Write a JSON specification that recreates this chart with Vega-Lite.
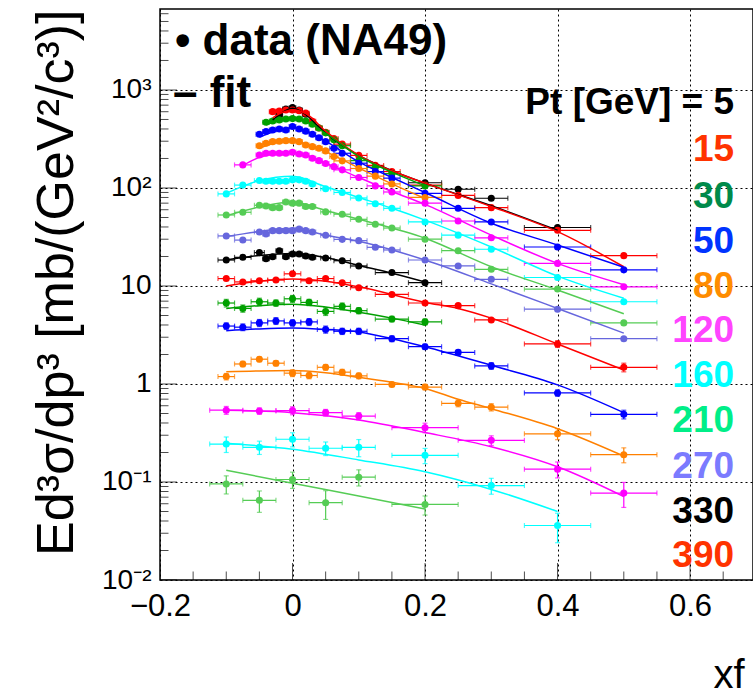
{
"$schema": "https://vega.github.io/schema/vega-lite/v6.json",
"width": 593, "height": 571,
"autosize": {"type": "none"},
"padding": {"left": 160, "top": 9, "right": 0, "bottom": 116},
"background": "white",
"config": {"font": "Liberation Sans", "view": {"stroke": "black", "strokeWidth": 1.5}},
"resolve": {"axis": {"x": "independent", "y": "independent"}},
"datasets": {
"xt": [
{"v":-0.2,"k":"maj"},{"v":-0.15,"k":"min"},{"v":-0.1,"k":"min"},{"v":-0.05,"k":"min"},{"v":0,"k":"maj"},{"v":0.05,"k":"min"},{"v":0.1,"k":"min"},{"v":0.15,"k":"min"},{"v":0.2,"k":"maj"},{"v":0.25,"k":"min"},{"v":0.3,"k":"min"},{"v":0.35,"k":"min"},{"v":0.4,"k":"maj"},{"v":0.45,"k":"min"},{"v":0.5,"k":"min"},{"v":0.55,"k":"min"},{"v":0.6,"k":"maj"},{"v":0.65,"k":"min"}
],
"yt": [
{"v":0.01,"k":"maj"},{"v":0.02,"k":"min"},{"v":0.03,"k":"min"},{"v":0.04,"k":"min"},{"v":0.05,"k":"min"},{"v":0.06,"k":"min"},{"v":0.07,"k":"min"},{"v":0.08,"k":"min"},{"v":0.09,"k":"min"},
{"v":0.1,"k":"maj"},{"v":0.2,"k":"min"},{"v":0.3,"k":"min"},{"v":0.4,"k":"min"},{"v":0.5,"k":"min"},{"v":0.6,"k":"min"},{"v":0.7,"k":"min"},{"v":0.8,"k":"min"},{"v":0.9,"k":"min"},
{"v":1,"k":"maj"},{"v":2,"k":"min"},{"v":3,"k":"min"},{"v":4,"k":"min"},{"v":5,"k":"min"},{"v":6,"k":"min"},{"v":7,"k":"min"},{"v":8,"k":"min"},{"v":9,"k":"min"},
{"v":10,"k":"maj"},{"v":20,"k":"min"},{"v":30,"k":"min"},{"v":40,"k":"min"},{"v":50,"k":"min"},{"v":60,"k":"min"},{"v":70,"k":"min"},{"v":80,"k":"min"},{"v":90,"k":"min"},
{"v":100,"k":"maj"},{"v":200,"k":"min"},{"v":300,"k":"min"},{"v":400,"k":"min"},{"v":500,"k":"min"},{"v":600,"k":"min"},{"v":700,"k":"min"},{"v":800,"k":"min"},{"v":900,"k":"min"},
{"v":1000,"k":"maj"},{"v":2000,"k":"min"},{"v":3000,"k":"min"},{"v":4000,"k":"min"},{"v":5000,"k":"min"},{"v":6000,"k":"min"}
],
"pts": [
{"s":"5","x":-0.02,"y":560,"ex":0.005},{"s":"5","x":-0.01,"y":640,"ex":0.005},{"s":"5","x":0,"y":660,"ex":0.005},{"s":"5","x":0.01,"y":625,"ex":0.005},{"s":"5","x":0.02,"y":565,"ex":0.005},{"s":"5","x":0.2,"y":113,"ex":0.025},{"s":"5","x":0.25,"y":97,"ex":0.025},{"s":"5","x":0.3,"y":78.5,"ex":0.025},{"s":"5","x":0.4,"y":39.5,"ex":0.05},
{"s":"15","x":-0.03,"y":601,"ex":0.005},{"s":"15","x":-0.02,"y":611,"ex":0.005},{"s":"15","x":-0.01,"y":625,"ex":0.005},{"s":"15","x":0,"y":625,"ex":0.005},{"s":"15","x":0.01,"y":615,"ex":0.005},{"s":"15","x":0.02,"y":580,"ex":0.005},{"s":"15","x":0.03,"y":480,"ex":0.005},{"s":"15","x":0.04,"y":410,"ex":0.005},{"s":"15","x":0.05,"y":370,"ex":0.005},{"s":"15","x":0.0625,"y":320,"ex":0.00625},{"s":"15","x":0.075,"y":280,"ex":0.0125},{"s":"15","x":0.1,"y":215,"ex":0.0125},{"s":"15","x":0.125,"y":170,"ex":0.0125},{"s":"15","x":0.15,"y":147,"ex":0.0125},{"s":"15","x":0.2,"y":107,"ex":0.025},{"s":"15","x":0.25,"y":84,"ex":0.025},{"s":"15","x":0.3,"y":63,"ex":0.025},{"s":"15","x":0.4,"y":37,"ex":0.05},{"s":"15","x":0.5,"y":20.4,"ex":0.05},
{"s":"30","x":-0.04,"y":468,"ex":0.005},{"s":"30","x":-0.03,"y":483,"ex":0.005},{"s":"30","x":-0.02,"y":495,"ex":0.005},{"s":"30","x":-0.01,"y":506,"ex":0.005},{"s":"30","x":0,"y":510,"ex":0.005},{"s":"30","x":0.01,"y":506,"ex":0.005},{"s":"30","x":0.02,"y":483,"ex":0.005},{"s":"30","x":0.03,"y":447,"ex":0.005},{"s":"30","x":0.04,"y":410,"ex":0.005},{"s":"30","x":0.05,"y":365,"ex":0.005},{"s":"30","x":0.0625,"y":310,"ex":0.00625},{"s":"30","x":0.075,"y":270,"ex":0.0125},{"s":"30","x":0.1,"y":190,"ex":0.0125},{"s":"30","x":0.125,"y":163,"ex":0.0125},{"s":"30","x":0.15,"y":140,"ex":0.0125},{"s":"30","x":0.2,"y":105,"ex":0.025},
{"s":"50","x":-0.05,"y":353,"ex":0.005},{"s":"50","x":-0.04,"y":376,"ex":0.005},{"s":"50","x":-0.03,"y":391,"ex":0.005},{"s":"50","x":-0.02,"y":400,"ex":0.005},{"s":"50","x":-0.01,"y":390,"ex":0.005},{"s":"50","x":0,"y":423,"ex":0.005},{"s":"50","x":0.01,"y":400,"ex":0.005},{"s":"50","x":0.02,"y":380,"ex":0.005},{"s":"50","x":0.03,"y":353,"ex":0.005},{"s":"50","x":0.04,"y":326,"ex":0.005},{"s":"50","x":0.05,"y":297,"ex":0.005},{"s":"50","x":0.0625,"y":254,"ex":0.00625},{"s":"50","x":0.075,"y":226,"ex":0.0125},{"s":"50","x":0.1,"y":179,"ex":0.0125},{"s":"50","x":0.125,"y":147,"ex":0.0125},{"s":"50","x":0.15,"y":126,"ex":0.0125},{"s":"50","x":0.2,"y":88,"ex":0.025},{"s":"50","x":0.25,"y":62,"ex":0.025},{"s":"50","x":0.3,"y":45,"ex":0.025},{"s":"50","x":0.4,"y":25,"ex":0.05},{"s":"50","x":0.5,"y":14.6,"ex":0.05},
{"s":"80","x":-0.05,"y":270,"ex":0.005},{"s":"80","x":-0.04,"y":286,"ex":0.005},{"s":"80","x":-0.03,"y":297,"ex":0.005},{"s":"80","x":-0.02,"y":300,"ex":0.005},{"s":"80","x":-0.01,"y":304,"ex":0.005},{"s":"80","x":0,"y":304,"ex":0.005},{"s":"80","x":0.01,"y":297,"ex":0.005},{"s":"80","x":0.02,"y":275,"ex":0.005},{"s":"80","x":0.03,"y":264,"ex":0.005},{"s":"80","x":0.04,"y":254,"ex":0.005},{"s":"80","x":0.05,"y":239,"ex":0.005},{"s":"80","x":0.0625,"y":209,"ex":0.00625},{"s":"80","x":0.075,"y":189,"ex":0.0125},{"s":"80","x":0.1,"y":158,"ex":0.0125},{"s":"80","x":0.125,"y":132,"ex":0.0125},{"s":"80","x":0.15,"y":110,"ex":0.0125},{"s":"80","x":0.2,"y":80,"ex":0.025},
{"s":"120","x":-0.075,"y":172,"ex":0.0125},{"s":"120","x":-0.05,"y":217,"ex":0.005},{"s":"120","x":-0.04,"y":226,"ex":0.005},{"s":"120","x":-0.03,"y":226,"ex":0.005},{"s":"120","x":-0.02,"y":226,"ex":0.005},{"s":"120","x":-0.01,"y":226,"ex":0.005},{"s":"120","x":0,"y":231,"ex":0.005},{"s":"120","x":0.01,"y":222,"ex":0.005},{"s":"120","x":0.02,"y":217,"ex":0.005},{"s":"120","x":0.03,"y":201,"ex":0.005},{"s":"120","x":0.04,"y":190,"ex":0.005},{"s":"120","x":0.05,"y":178,"ex":0.005},{"s":"120","x":0.0625,"y":165,"ex":0.00625},{"s":"120","x":0.075,"y":153,"ex":0.0125},{"s":"120","x":0.1,"y":128,"ex":0.0125},{"s":"120","x":0.125,"y":105,"ex":0.0125},{"s":"120","x":0.15,"y":91,"ex":0.0125},{"s":"120","x":0.2,"y":70,"ex":0.025},{"s":"120","x":0.25,"y":46,"ex":0.025},{"s":"120","x":0.3,"y":31,"ex":0.025},{"s":"120","x":0.4,"y":17,"ex":0.05},{"s":"120","x":0.5,"y":9.8,"ex":0.05},
{"s":"160","x":-0.1,"y":87,"ex":0.0125},{"s":"160","x":-0.075,"y":107,"ex":0.0125},{"s":"160","x":-0.05,"y":119,"ex":0.0075},{"s":"160","x":-0.04,"y":117,"ex":0.005},{"s":"160","x":-0.03,"y":117,"ex":0.005},{"s":"160","x":-0.02,"y":117,"ex":0.005},{"s":"160","x":-0.01,"y":117,"ex":0.005},{"s":"160","x":0,"y":121,"ex":0.005},{"s":"160","x":0.01,"y":121,"ex":0.005},{"s":"160","x":0.02,"y":117,"ex":0.005},{"s":"160","x":0.03,"y":110,"ex":0.005},{"s":"160","x":0.05,"y":98,"ex":0.0075},{"s":"160","x":0.075,"y":90,"ex":0.0125},{"s":"160","x":0.1,"y":79,"ex":0.0125},{"s":"160","x":0.125,"y":69,"ex":0.0125},{"s":"160","x":0.15,"y":62,"ex":0.0125},{"s":"160","x":0.2,"y":45,"ex":0.025},{"s":"160","x":0.25,"y":33,"ex":0.025},{"s":"160","x":0.3,"y":23.7,"ex":0.025},{"s":"160","x":0.4,"y":12.2,"ex":0.05},{"s":"160","x":0.5,"y":6.9,"ex":0.05},
{"s":"210","x":-0.1,"y":53,"ex":0.0125},{"s":"210","x":-0.075,"y":56.5,"ex":0.0125},{"s":"210","x":-0.05,"y":66.6,"ex":0.0075},{"s":"210","x":-0.04,"y":65.5,"ex":0.005},{"s":"210","x":-0.03,"y":63,"ex":0.005},{"s":"210","x":-0.02,"y":63,"ex":0.005},{"s":"210","x":-0.01,"y":72,"ex":0.005},{"s":"210","x":0,"y":70,"ex":0.005},{"s":"210","x":0.01,"y":70,"ex":0.005},{"s":"210","x":0.02,"y":64.6,"ex":0.005},{"s":"210","x":0.03,"y":64.6,"ex":0.005},{"s":"210","x":0.05,"y":57,"ex":0.0075},{"s":"210","x":0.075,"y":54,"ex":0.0125},{"s":"210","x":0.1,"y":47.9,"ex":0.0125},{"s":"210","x":0.125,"y":42.6,"ex":0.0125},{"s":"210","x":0.15,"y":39,"ex":0.0125},{"s":"210","x":0.2,"y":30,"ex":0.025},{"s":"210","x":0.25,"y":22.9,"ex":0.025},{"s":"210","x":0.3,"y":14.8,"ex":0.025},{"s":"210","x":0.4,"y":9.3,"ex":0.05},{"s":"210","x":0.5,"y":4.2,"ex":0.05},
{"s":"270","x":-0.1,"y":32.4,"ex":0.0125},{"s":"270","x":-0.075,"y":29.4,"ex":0.0125},{"s":"270","x":-0.05,"y":35.6,"ex":0.0075},{"s":"270","x":-0.04,"y":34,"ex":0.005},{"s":"270","x":-0.03,"y":36.7,"ex":0.005},{"s":"270","x":-0.02,"y":36.7,"ex":0.005},{"s":"270","x":-0.01,"y":36.7,"ex":0.005},{"s":"270","x":0,"y":36.7,"ex":0.005},{"s":"270","x":0.01,"y":38,"ex":0.005},{"s":"270","x":0.02,"y":36.7,"ex":0.005},{"s":"270","x":0.03,"y":35.6,"ex":0.005},{"s":"270","x":0.05,"y":32.9,"ex":0.0075},{"s":"270","x":0.075,"y":29.9,"ex":0.0125},{"s":"270","x":0.1,"y":29,"ex":0.0125},{"s":"270","x":0.125,"y":24.8,"ex":0.0125},{"s":"270","x":0.15,"y":23.3,"ex":0.0125},{"s":"270","x":0.2,"y":18.4,"ex":0.025},{"s":"270","x":0.25,"y":16,"ex":0.025},{"s":"270","x":0.3,"y":11.7,"ex":0.025},{"s":"270","x":0.4,"y":5.8,"ex":0.05},{"s":"270","x":0.5,"y":2.9,"ex":0.05},
{"s":"330","x":-0.1,"y":18.4,"ex":0.0125},{"s":"330","x":-0.075,"y":19.6,"ex":0.0125},{"s":"330","x":-0.05,"y":21.9,"ex":0.0075},{"s":"330","x":-0.04,"y":19,"ex":0.005},{"s":"330","x":-0.03,"y":19.9,"ex":0.005},{"s":"330","x":-0.02,"y":22.9,"ex":0.005},{"s":"330","x":-0.01,"y":19.9,"ex":0.005},{"s":"330","x":0,"y":21.2,"ex":0.005},{"s":"330","x":0.01,"y":21.2,"ex":0.005},{"s":"330","x":0.02,"y":20.2,"ex":0.005},{"s":"330","x":0.03,"y":19.6,"ex":0.005},{"s":"330","x":0.05,"y":19.3,"ex":0.0075},{"s":"330","x":0.075,"y":18.1,"ex":0.0125},{"s":"330","x":0.1,"y":16,"ex":0.0125},{"s":"330","x":0.15,"y":13.7,"ex":0.025},{"s":"330","x":0.2,"y":10.8,"ex":0.025},
{"s":"390","x":-0.1,"y":11.9,"ex":0.0125},{"s":"390","x":-0.075,"y":11,"ex":0.0125},{"s":"390","x":-0.05,"y":11.3,"ex":0.0125},{"s":"390","x":-0.025,"y":11.5,"ex":0.0125},{"s":"390","x":0,"y":13.3,"ex":0.0125},{"s":"390","x":0.025,"y":11.3,"ex":0.0125},{"s":"390","x":0.05,"y":11.9,"ex":0.0125},{"s":"390","x":0.075,"y":10.8,"ex":0.0125},{"s":"390","x":0.1,"y":9.6,"ex":0.0125},{"s":"390","x":0.15,"y":8.2,"ex":0.025},{"s":"390","x":0.2,"y":6.7,"ex":0.025},{"s":"390","x":0.25,"y":6.3,"ex":0.025},{"s":"390","x":0.3,"y":4.5,"ex":0.025},{"s":"390","x":0.4,"y":2.56,"ex":0.05,"ey":0.2},{"s":"390","x":0.5,"y":1.48,"ex":0.05,"ey":0.15},
{"s":"460","x":-0.1,"y":6.7,"ex":0.0125,"ey":0.6},{"s":"460","x":-0.075,"y":5.9,"ex":0.0125,"ey":0.5},{"s":"460","x":-0.05,"y":6.9,"ex":0.0125,"ey":0.6},{"s":"460","x":-0.025,"y":6.7,"ex":0.0125,"ey":0.5},{"s":"460","x":0,"y":7.4,"ex":0.0125,"ey":0.6},{"s":"460","x":0.025,"y":6.8,"ex":0.0125,"ey":0.5},{"s":"460","x":0.05,"y":5.5,"ex":0.0125,"ey":0.5},{"s":"460","x":0.075,"y":6.2,"ex":0.0125,"ey":0.5},{"s":"460","x":0.1,"y":5.6,"ex":0.0125,"ey":0.4},{"s":"460","x":0.15,"y":4.6,"ex":0.025,"ey":0.3},{"s":"460","x":0.2,"y":4.3,"ex":0.025,"ey":0.3},
{"s":"550","x":-0.1,"y":3.9,"ex":0.0125,"ey":0.3},{"s":"550","x":-0.075,"y":3.8,"ex":0.0125,"ey":0.3},{"s":"550","x":-0.05,"y":4.2,"ex":0.0125,"ey":0.35},{"s":"550","x":-0.025,"y":4.4,"ex":0.0125,"ey":0.35},{"s":"550","x":0,"y":4.2,"ex":0.0125,"ey":0.3},{"s":"550","x":0.025,"y":4.3,"ex":0.0125,"ey":0.35},{"s":"550","x":0.05,"y":3.6,"ex":0.0125,"ey":0.3},{"s":"550","x":0.075,"y":3.45,"ex":0.0125,"ey":0.25},{"s":"550","x":0.1,"y":3.45,"ex":0.0125,"ey":0.25},{"s":"550","x":0.15,"y":2.9,"ex":0.025,"ey":0.2},{"s":"550","x":0.2,"y":2.4,"ex":0.025,"ey":0.15},{"s":"550","x":0.25,"y":2.1,"ex":0.025,"ey":0.12},{"s":"550","x":0.3,"y":1.53,"ex":0.025,"ey":0.12},{"s":"550","x":0.4,"y":0.81,"ex":0.05,"ey":0.06},{"s":"550","x":0.5,"y":0.49,"ex":0.05,"ey":0.05},
{"s":"650","x":-0.1,"y":1.19,"ex":0.0125,"ey":0.09},{"s":"650","x":-0.075,"y":1.6,"ex":0.0125,"ey":0.1},{"s":"650","x":-0.05,"y":1.79,"ex":0.0125,"ey":0.1},{"s":"650","x":-0.025,"y":1.63,"ex":0.0125,"ey":0.1},{"s":"650","x":0,"y":1.29,"ex":0.0125,"ey":0.1},{"s":"650","x":0.025,"y":1.22,"ex":0.0125,"ey":0.09},{"s":"650","x":0.05,"y":1.48,"ex":0.0125,"ey":0.1},{"s":"650","x":0.075,"y":1.32,"ex":0.0125,"ey":0.09},{"s":"650","x":0.1,"y":1.21,"ex":0.0125,"ey":0.08},{"s":"650","x":0.15,"y":0.99,"ex":0.025,"ey":0.05},{"s":"650","x":0.2,"y":0.93,"ex":0.025,"ey":0.06},{"s":"650","x":0.25,"y":0.635,"ex":0.025,"ey":0.05},{"s":"650","x":0.3,"y":0.58,"ex":0.025,"ey":0.05},{"s":"650","x":0.4,"y":0.31,"ex":0.05,"ey":0.04},{"s":"650","x":0.5,"y":0.19,"ex":0.05,"ey":0.033},
{"s":"750","x":-0.1,"y":0.54,"ex":0.025,"ey":0.05},{"s":"750","x":-0.05,"y":0.53,"ex":0.025,"ey":0.04},{"s":"750","x":0,"y":0.535,"ex":0.025,"ey":0.05},{"s":"750","x":0.05,"y":0.51,"ex":0.025,"ey":0.04},{"s":"750","x":0.1,"y":0.47,"ex":0.025,"ey":0.04},{"s":"750","x":0.2,"y":0.358,"ex":0.05,"ey":0.04},{"s":"750","x":0.3,"y":0.266,"ex":0.05,"ey":0.03},{"s":"750","x":0.4,"y":0.135,"ex":0.05,"ey":0.025},{"s":"750","x":0.5,"y":0.077,"ex":0.05,"ey":0.022},
{"s":"850","x":-0.1,"y":0.244,"ex":0.025,"ey":0.044},{"s":"850","x":-0.05,"y":0.226,"ex":0.025,"ey":0.035},{"s":"850","x":0,"y":0.273,"ex":0.025,"ey":0.045},{"s":"850","x":0.05,"y":0.221,"ex":0.025,"ey":0.035},{"s":"850","x":0.1,"y":0.226,"ex":0.025,"ey":0.045},{"s":"850","x":0.2,"y":0.187,"ex":0.05,"ey":0.033},{"s":"850","x":0.3,"y":0.092,"ex":0.05,"ey":0.017},{"s":"850","x":0.4,"y":0.036,"ex":0.05,"ey":0.012},
{"s":"950","x":-0.1,"y":0.0955,"ex":0.025,"ey":0.02},{"s":"950","x":-0.05,"y":0.065,"ex":0.025,"ey":0.016},{"s":"950","x":0,"y":0.106,"ex":0.025,"ey":0.02},{"s":"950","x":0.05,"y":0.0615,"ex":0.025,"ey":0.02},{"s":"950","x":0.1,"y":0.112,"ex":0.025,"ey":0.021},{"s":"950","x":0.2,"y":0.059,"ex":0.05,"ey":0.013}
],
"fit": [
{"s":"5","x":-0.03,"y":494},{"s":"5","x":-0.02,"y":560},{"s":"5","x":-0.01,"y":620},{"s":"5","x":0,"y":650},{"s":"5","x":0.02,"y":560},{"s":"5","x":0.04,"y":420},{"s":"5","x":0.06,"y":320},{"s":"5","x":0.1,"y":215},{"s":"5","x":0.15,"y":150},{"s":"5","x":0.2,"y":112},{"s":"5","x":0.3,"y":66},{"s":"5","x":0.4,"y":37},
{"s":"15","x":-0.03,"y":520},{"s":"15","x":-0.015,"y":590},{"s":"15","x":0,"y":630},{"s":"15","x":0.02,"y":575},{"s":"15","x":0.05,"y":380},{"s":"15","x":0.1,"y":215},{"s":"15","x":0.15,"y":150},{"s":"15","x":0.2,"y":112},{"s":"15","x":0.3,"y":64.6},{"s":"15","x":0.4,"y":35.8},{"s":"15","x":0.5,"y":15.7},
{"s":"30","x":-0.04,"y":440},{"s":"30","x":-0.02,"y":490},{"s":"30","x":0,"y":510},{"s":"30","x":0.02,"y":480},{"s":"30","x":0.05,"y":360},{"s":"30","x":0.1,"y":210},{"s":"30","x":0.15,"y":145},{"s":"30","x":0.2,"y":105},
{"s":"50","x":-0.05,"y":330},{"s":"50","x":-0.025,"y":380},{"s":"50","x":0,"y":415},{"s":"50","x":0.025,"y":370},{"s":"50","x":0.05,"y":300},{"s":"50","x":0.1,"y":185},{"s":"50","x":0.15,"y":128},{"s":"50","x":0.2,"y":90},{"s":"50","x":0.3,"y":43.7},{"s":"50","x":0.4,"y":26.2},{"s":"50","x":0.5,"y":15.5},
{"s":"80","x":-0.05,"y":255},{"s":"80","x":-0.025,"y":290},{"s":"80","x":0,"y":305},{"s":"80","x":0.025,"y":275},{"s":"80","x":0.05,"y":235},{"s":"80","x":0.1,"y":160},{"s":"80","x":0.15,"y":110},{"s":"80","x":0.2,"y":78},
{"s":"120","x":-0.075,"y":170},{"s":"120","x":-0.05,"y":205},{"s":"120","x":-0.025,"y":225},{"s":"120","x":0,"y":232},{"s":"120","x":0.025,"y":212},{"s":"120","x":0.05,"y":180},{"s":"120","x":0.1,"y":128},{"s":"120","x":0.15,"y":92},{"s":"120","x":0.2,"y":68},{"s":"120","x":0.3,"y":33},{"s":"120","x":0.4,"y":17},{"s":"120","x":0.5,"y":10.3},
{"s":"160","x":-0.1,"y":88},{"s":"160","x":-0.05,"y":119},{"s":"160","x":0,"y":132},{"s":"160","x":0.05,"y":103},{"s":"160","x":0.1,"y":80},{"s":"160","x":0.15,"y":62},{"s":"160","x":0.2,"y":47},{"s":"160","x":0.3,"y":25},{"s":"160","x":0.4,"y":12.6},{"s":"160","x":0.5,"y":7.5},
{"s":"210","x":-0.1,"y":52},{"s":"210","x":-0.05,"y":64},{"s":"210","x":0,"y":72},{"s":"210","x":0.05,"y":59},{"s":"210","x":0.1,"y":48},{"s":"210","x":0.2,"y":30.7},{"s":"210","x":0.3,"y":15.7},{"s":"210","x":0.4,"y":9.1},{"s":"210","x":0.5,"y":5.2},
{"s":"270","x":-0.1,"y":32},{"s":"270","x":-0.05,"y":36},{"s":"270","x":0,"y":38.8},{"s":"270","x":0.05,"y":33},{"s":"270","x":0.1,"y":28.6},{"s":"270","x":0.2,"y":18.4},{"s":"270","x":0.3,"y":10.5},{"s":"270","x":0.4,"y":5.9},{"s":"270","x":0.5,"y":3.3},
{"s":"330","x":-0.1,"y":18.4},{"s":"330","x":-0.05,"y":20.5},{"s":"330","x":0,"y":21.5},{"s":"330","x":0.05,"y":19.5},{"s":"330","x":0.1,"y":16.2},{"s":"330","x":0.15,"y":13.5},{"s":"330","x":0.2,"y":11},
{"s":"390","x":-0.1,"y":10},{"s":"390","x":-0.05,"y":11.2},{"s":"390","x":0,"y":11.8},{"s":"390","x":0.05,"y":11.2},{"s":"390","x":0.1,"y":9.8},{"s":"390","x":0.2,"y":6.8},{"s":"390","x":0.25,"y":5.9},{"s":"390","x":0.3,"y":4.7},{"s":"390","x":0.4,"y":2.56},{"s":"390","x":0.5,"y":1.39},
{"s":"460","x":-0.1,"y":5.9},{"s":"460","x":-0.05,"y":6.3},{"s":"460","x":0,"y":6.5},{"s":"460","x":0.05,"y":6.1},{"s":"460","x":0.1,"y":5.4},{"s":"460","x":0.15,"y":4.7},{"s":"460","x":0.2,"y":4.0},
{"s":"550","x":-0.1,"y":3.5},{"s":"550","x":-0.05,"y":3.65},{"s":"550","x":0,"y":3.72},{"s":"550","x":0.05,"y":3.6},{"s":"550","x":0.1,"y":3.4},{"s":"550","x":0.15,"y":2.9},{"s":"550","x":0.2,"y":2.4},{"s":"550","x":0.3,"y":1.55},{"s":"550","x":0.4,"y":0.98},{"s":"550","x":0.5,"y":0.51},
{"s":"650","x":-0.1,"y":1.33},{"s":"650","x":-0.05,"y":1.36},{"s":"650","x":0,"y":1.37},{"s":"650","x":0.05,"y":1.3},{"s":"650","x":0.1,"y":1.17},{"s":"650","x":0.15,"y":1.04},{"s":"650","x":0.2,"y":0.9},{"s":"650","x":0.25,"y":0.7},{"s":"650","x":0.3,"y":0.56},{"s":"650","x":0.4,"y":0.35},{"s":"650","x":0.5,"y":0.184},
{"s":"750","x":-0.1,"y":0.54},{"s":"750","x":0,"y":0.51},{"s":"750","x":0.1,"y":0.43},{"s":"750","x":0.2,"y":0.32},{"s":"750","x":0.3,"y":0.229},{"s":"750","x":0.4,"y":0.143},{"s":"750","x":0.5,"y":0.071},
{"s":"850","x":-0.1,"y":0.248},{"s":"850","x":0,"y":0.216},{"s":"850","x":0.1,"y":0.168},{"s":"850","x":0.2,"y":0.127},{"s":"850","x":0.3,"y":0.084},{"s":"850","x":0.4,"y":0.05},
{"s":"950","x":-0.1,"y":0.132},{"s":"950","x":0,"y":0.097},{"s":"950","x":0.1,"y":0.072},{"s":"950","x":0.2,"y":0.053}
],
"leg": [
{"t":"• data (NA49)","x":-0.1774,"y":2275},
{"t":"– fit","x":-0.1804,"y":671}
],
"lab": [
{"t":"Pt [GeV] = 5","x":0.6664,"y":736},
{"t":"15","x":0.6664,"y":244},
{"t":"30","x":0.6664,"y":81},
{"t":"50","x":0.6664,"y":28.1},
{"t":"80","x":0.6664,"y":9.77},
{"t":"120","x":0.6664,"y":3.47},
{"t":"160","x":0.6664,"y":1.21},
{"t":"210","x":0.6664,"y":0.419},
{"t":"270","x":0.6664,"y":0.142},
{"t":"330","x":0.6664,"y":0.0494},
{"t":"390","x":0.6664,"y":0.0176}
]
},
"layer": [
{
"data": {"name": "pts"},
"mark": {"type": "errorbar", "ticks": {"size": 5}, "thickness": 1.2},
"encoding": {
"x": {"field": "x", "type": "quantitative", "scale": {"domain": [-0.2, 0.695], "nice": false, "zero": false},
  "axis": {"orient": "bottom", "values": [-0.2, 0, 0.2, 0.4, 0.6],
    "labelExpr": "replace(format(datum.value, '~g'), '-', '−')",
    "ticks": false,
    "domain": false, "grid": true, "gridColor": "black", "gridDash": [2, 3], "gridWidth": 1,
    "labelFont": "Liberation Sans", "labelFontSize": 31, "labelColor": "black", "labelPadding": 11, "labelFlush": false, "labelOverlap": false,
    "title": "xf", "titleFont": "Liberation Sans", "titleFontSize": 40, "titleFontWeight": "normal", "titleColor": "black", "titleAnchor": "end", "titleAlign": "right", "titleBaseline": "alphabetic", "titleX": 584, "titleY": 107}},
"xError": {"field": "ex"},
"y": {"field": "y", "type": "quantitative", "scale": {"type": "log", "domain": [0.01, 6700], "nice": false},
  "axis": {"orient": "left", "values": [0.01, 0.1, 1, 10, 100, 1000],
    "labelExpr": "datum.value >= 999 ? '10³' : datum.value >= 99 ? '10²' : datum.value >= 9 ? '10' : datum.value >= 0.9 ? '1' : datum.value >= 0.09 ? '10⁻¹' : '10⁻²'",
    "ticks": false,
    "domain": false, "grid": true, "gridColor": "black", "gridDash": [2, 3], "gridWidth": 1,
    "labelFont": "Liberation Sans", "labelFontSize": 28, "labelColor": "black", "labelPadding": 9, "labelFlush": false, "labelOverlap": false,
    "title": "Ed³σ/dp³ [mb/(GeV²/c³)]", "titleFont": "Liberation Sans", "titleFontSize": 52, "titleFontWeight": "normal", "titleColor": "black", "titleAngle": -90, "titleAlign": "right", "titleBaseline": "alphabetic", "titleX": -88, "titleY": 0}},
"color": {"field": "s", "type": "nominal", "legend": null, "scale": {"domain": ["5","15","30","50","80","120","160","210","270","330","390","460","550","650","750","850","950"], "range": ["#000000","#ff0000","#00a000","#0000ff","#ff8000","#ff00ff","#00ffff","#55cc55","#6666dd","#000000","#ff0000","#00a000","#0000ff","#ff8000","#ff00ff","#00ffff","#55cc55"]}}
}
},
{
"data": {"name": "xt"},
"mark": {"type": "tick", "orient": "vertical", "thickness": 1, "color": "black", "clip": true},
"encoding": {
"x": {"field": "v", "type": "quantitative", "axis": null},
"y": {"datum": 0.01, "type": "quantitative", "axis": null},
"size": {"field": "k", "type": "nominal", "legend": null, "scale": {"domain": ["maj", "min"], "range": [34, 17]}}
}
},
{
"data": {"name": "yt"},
"mark": {"type": "tick", "orient": "horizontal", "thickness": 1, "color": "black", "clip": true},
"encoding": {
"y": {"field": "v", "type": "quantitative", "axis": null},
"x": {"datum": -0.2, "type": "quantitative", "axis": null},
"size": {"field": "k", "type": "nominal", "legend": null}
}
},
{
"data": {"name": "pts"},
"transform": [{"filter": "datum.ey > 0"}],
"mark": {"type": "errorbar", "ticks": {"size": 5}, "thickness": 1.2},
"encoding": {
"x": {"field": "x", "type": "quantitative", "axis": null},
"y": {"field": "y", "type": "quantitative", "axis": null},
"yError": {"field": "ey"},
"color": {"field": "s", "type": "nominal", "legend": null}
}
},
{
"data": {"name": "pts"},
"mark": {"type": "circle", "size": 50, "opacity": 1},
"encoding": {
"x": {"field": "x", "type": "quantitative", "axis": null},
"y": {"field": "y", "type": "quantitative", "axis": null},
"color": {"field": "s", "type": "nominal", "legend": null}
}
},
{
"data": {"name": "fit"},
"mark": {"type": "line", "strokeWidth": 1.5, "interpolate": "monotone"},
"encoding": {
"x": {"field": "x", "type": "quantitative", "axis": null},
"y": {"field": "y", "type": "quantitative", "axis": null},
"color": {"field": "s", "type": "nominal", "legend": null},
"detail": {"field": "s"}
}
},
{
"data": {"name": "leg"},
"mark": {"type": "text", "align": "left", "baseline": "alphabetic", "fontSize": 44, "fontWeight": "bold", "font": "Liberation Sans", "color": "black"},
"encoding": {
"x": {"field": "x", "type": "quantitative", "axis": null},
"y": {"field": "y", "type": "quantitative", "axis": null},
"text": {"field": "t"}
}
},
{
"data": {"name": "lab"},
"mark": {"type": "text", "align": "right", "baseline": "middle", "fontSize": 37, "fontWeight": "bold", "font": "Liberation Sans"},
"encoding": {
"x": {"field": "x", "type": "quantitative", "axis": null},
"y": {"field": "y", "type": "quantitative", "axis": null},
"text": {"field": "t"},
"fill": {"field": "t", "type": "nominal", "legend": null, "scale": {"domain": ["Pt [GeV] = 5","15","30","50","80","120","160","210","270","330","390"], "range": ["#000000","#ff3300","#008a4a","#0033ff","#ff8c00","#ff44ff","#00ffff","#00ee88","#7b7bff","#000000","#ff3300"]}}
}
}
]
}
